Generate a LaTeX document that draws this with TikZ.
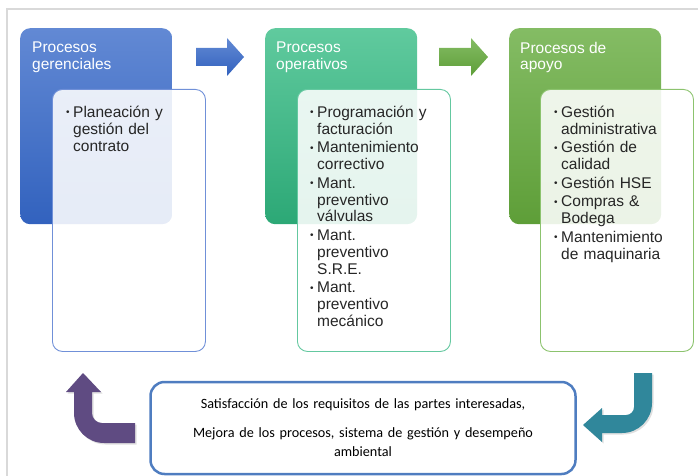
\documentclass[tikz,border=0pt]{standalone}
\usepackage{fontspec}
\setmainfont{Liberation Sans}
\newfontfamily\calibri{Carlito}
\usepackage{tikz}
\usetikzlibrary{positioning}
\usetikzlibrary{shadows}
\definecolor{azulA}{RGB}{98,137,212}
\definecolor{azulB}{RGB}{50,98,190}
\definecolor{azulL}{RGB}{112,144,216}
\definecolor{tealA}{RGB}{96,202,158}
\definecolor{tealB}{RGB}{44,168,118}
\definecolor{tealL}{RGB}{100,200,160}
\definecolor{verdeA}{RGB}{132,188,100}
\definecolor{verdeB}{RGB}{94,158,56}
\definecolor{verdeL}{RGB}{140,195,110}
\definecolor{morado}{RGB}{95,75,130}
\definecolor{petroleo}{RGB}{48,135,155}
\definecolor{marco}{RGB}{217,217,217}
\definecolor{bordeRes}{RGB}{79,125,192}
\newcommand{\itemproc}[1]{\par\hangindent=7pt\hangafter=1\noindent
  \makebox[7pt][l]{\raisebox{1.5pt}{\fontsize{10}{10}\selectfont •}}#1\par\vspace{1.8pt}}

\begin{document}
\begin{tikzpicture}[x=1pt, y=-1pt,
    hdr/.style={rounded corners=10pt, minimum width=152pt, minimum height=196pt,
                anchor=north west, inner sep=0pt},
    caja/.style={rounded corners=10pt, minimum width=153pt, minimum height=262pt,
                 anchor=north west, inner sep=0pt, fill=white, fill opacity=0.88,
                 line width=0.9pt},
    titulo/.style={text=white, align=left, inner sep=0pt,
                   font=\fontsize{15.5}{16.5}\selectfont},
    lista/.style={text width=130pt, align=left, inner sep=0pt, text=black!85,
                  font=\fontsize{15.5}{16.8}\selectfont},
    resumen/.style={draw=bordeRes, line width=2.5pt, rounded corners=14pt,
                    minimum width=425pt, minimum height=92pt, text width=400pt,
                    align=center, font=\calibri\fontsize{14.2}{19}\selectfont}]
    \useasboundingbox (0,0) rectangle (698,476);
    % Frame
    \draw[marco, line width=1.5pt] (7,476) -- (7,9) -- (698,9);
    % Header blocks
    \node[hdr, top color=azulA, bottom color=azulB] (hdrGer) at (20,28) {};
    \node[hdr, top color=tealA, bottom color=tealB] (hdrOpe) at (265,28) {};
    \node[hdr, top color=verdeA, bottom color=verdeB] (hdrApo) at (509,28) {};
    % List boxes
    \node[caja, draw=azulL] (lstGer) at (52,89) {};
    \node[caja, draw=tealL] (lstOpe) at (297,89) {};
    \node[caja, draw=verdeL] (lstApo) at (540,89) {};
    % Titles
    \node[titulo, below right=14pt and 12pt of hdrGer.north west] (titGer) {Procesos\\gerenciales};
    \node[titulo, below right=14pt and 11pt of hdrOpe.north west] (titOpe) {Procesos\\operativos};
    \node[titulo, below right=14pt and 11pt of hdrApo.north west] (titApo) {Procesos de\\apoyo};
    % Items
    \node[lista, below right=11.5pt and 14pt of lstGer.north west] (itmGer) {%
        \itemproc{Planeación y\newline gestión del\newline contrato}};
    \node[lista, below right=11.5pt and 13pt of lstOpe.north west] (itmOpe) {%
        \itemproc{Programación y\newline facturación}
        \itemproc{Mantenimiento\newline correctivo}
        \itemproc{Mant.\newline preventivo\newline válvulas}
        \itemproc{Mant.\newline preventivo\newline S.R.E.}
        \itemproc{Mant.\newline preventivo\newline mecánico}};
    \node[lista, below right=11.5pt and 14pt of lstApo.north west] (itmApo) {%
        \itemproc{Gestión\newline administrativa}
        \itemproc{Gestión de\newline calidad}
        \itemproc{Gestión HSE}
        \itemproc{Compras \&\newline Bodega}
        \itemproc{Mantenimiento\newline de maquinaria}};
    % Block arrows
    \shade[top color=azulA, bottom color=azulB]
        (196,48) -- (227,48) -- (227,38) -- (244,57) -- (227,76) -- (227,66) -- (196,66) -- cycle;
    \shade[top color=verdeA, bottom color=verdeB]
        (439,48) -- (471,48) -- (471,38) -- (488,57) -- (471,76) -- (471,66) -- (439,66) -- cycle;
    % Summary box
    \node[resumen] (resumen) at (363,428) {Satisfacción de los requisitos de las partes interesadas,\\[10pt]
        Mejora de los procesos, sistema de gestión y desempeño\\ambiental};
    % Return arrows
    \fill[morado, drop shadow={opacity=0.25, shadow xshift=1.5pt, shadow yshift=-1.5pt}]
        (83,373) -- (101,392) -- (92,392) -- (92,413) .. controls (92,418.5) and (96.5,423) .. (102,423)
        -- (135,423) -- (135,443) -- (104,443) .. controls (87.5,443) and (74,429.5) .. (74,413)
        -- (74,392) -- (66,392) -- cycle;
    \fill[petroleo, drop shadow={opacity=0.25, shadow xshift=1.5pt, shadow yshift=-1.5pt}]
        (634,373) -- (652,373) -- (652,403) .. controls (652,419.5) and (638.5,433) .. (622,433)
        -- (602,433) -- (602,442) -- (583,425) -- (602,408) -- (602,415) -- (626,415)
        .. controls (630.4,415) and (634,411.4) .. (634,407) -- cycle;
\end{tikzpicture}
\end{document}
